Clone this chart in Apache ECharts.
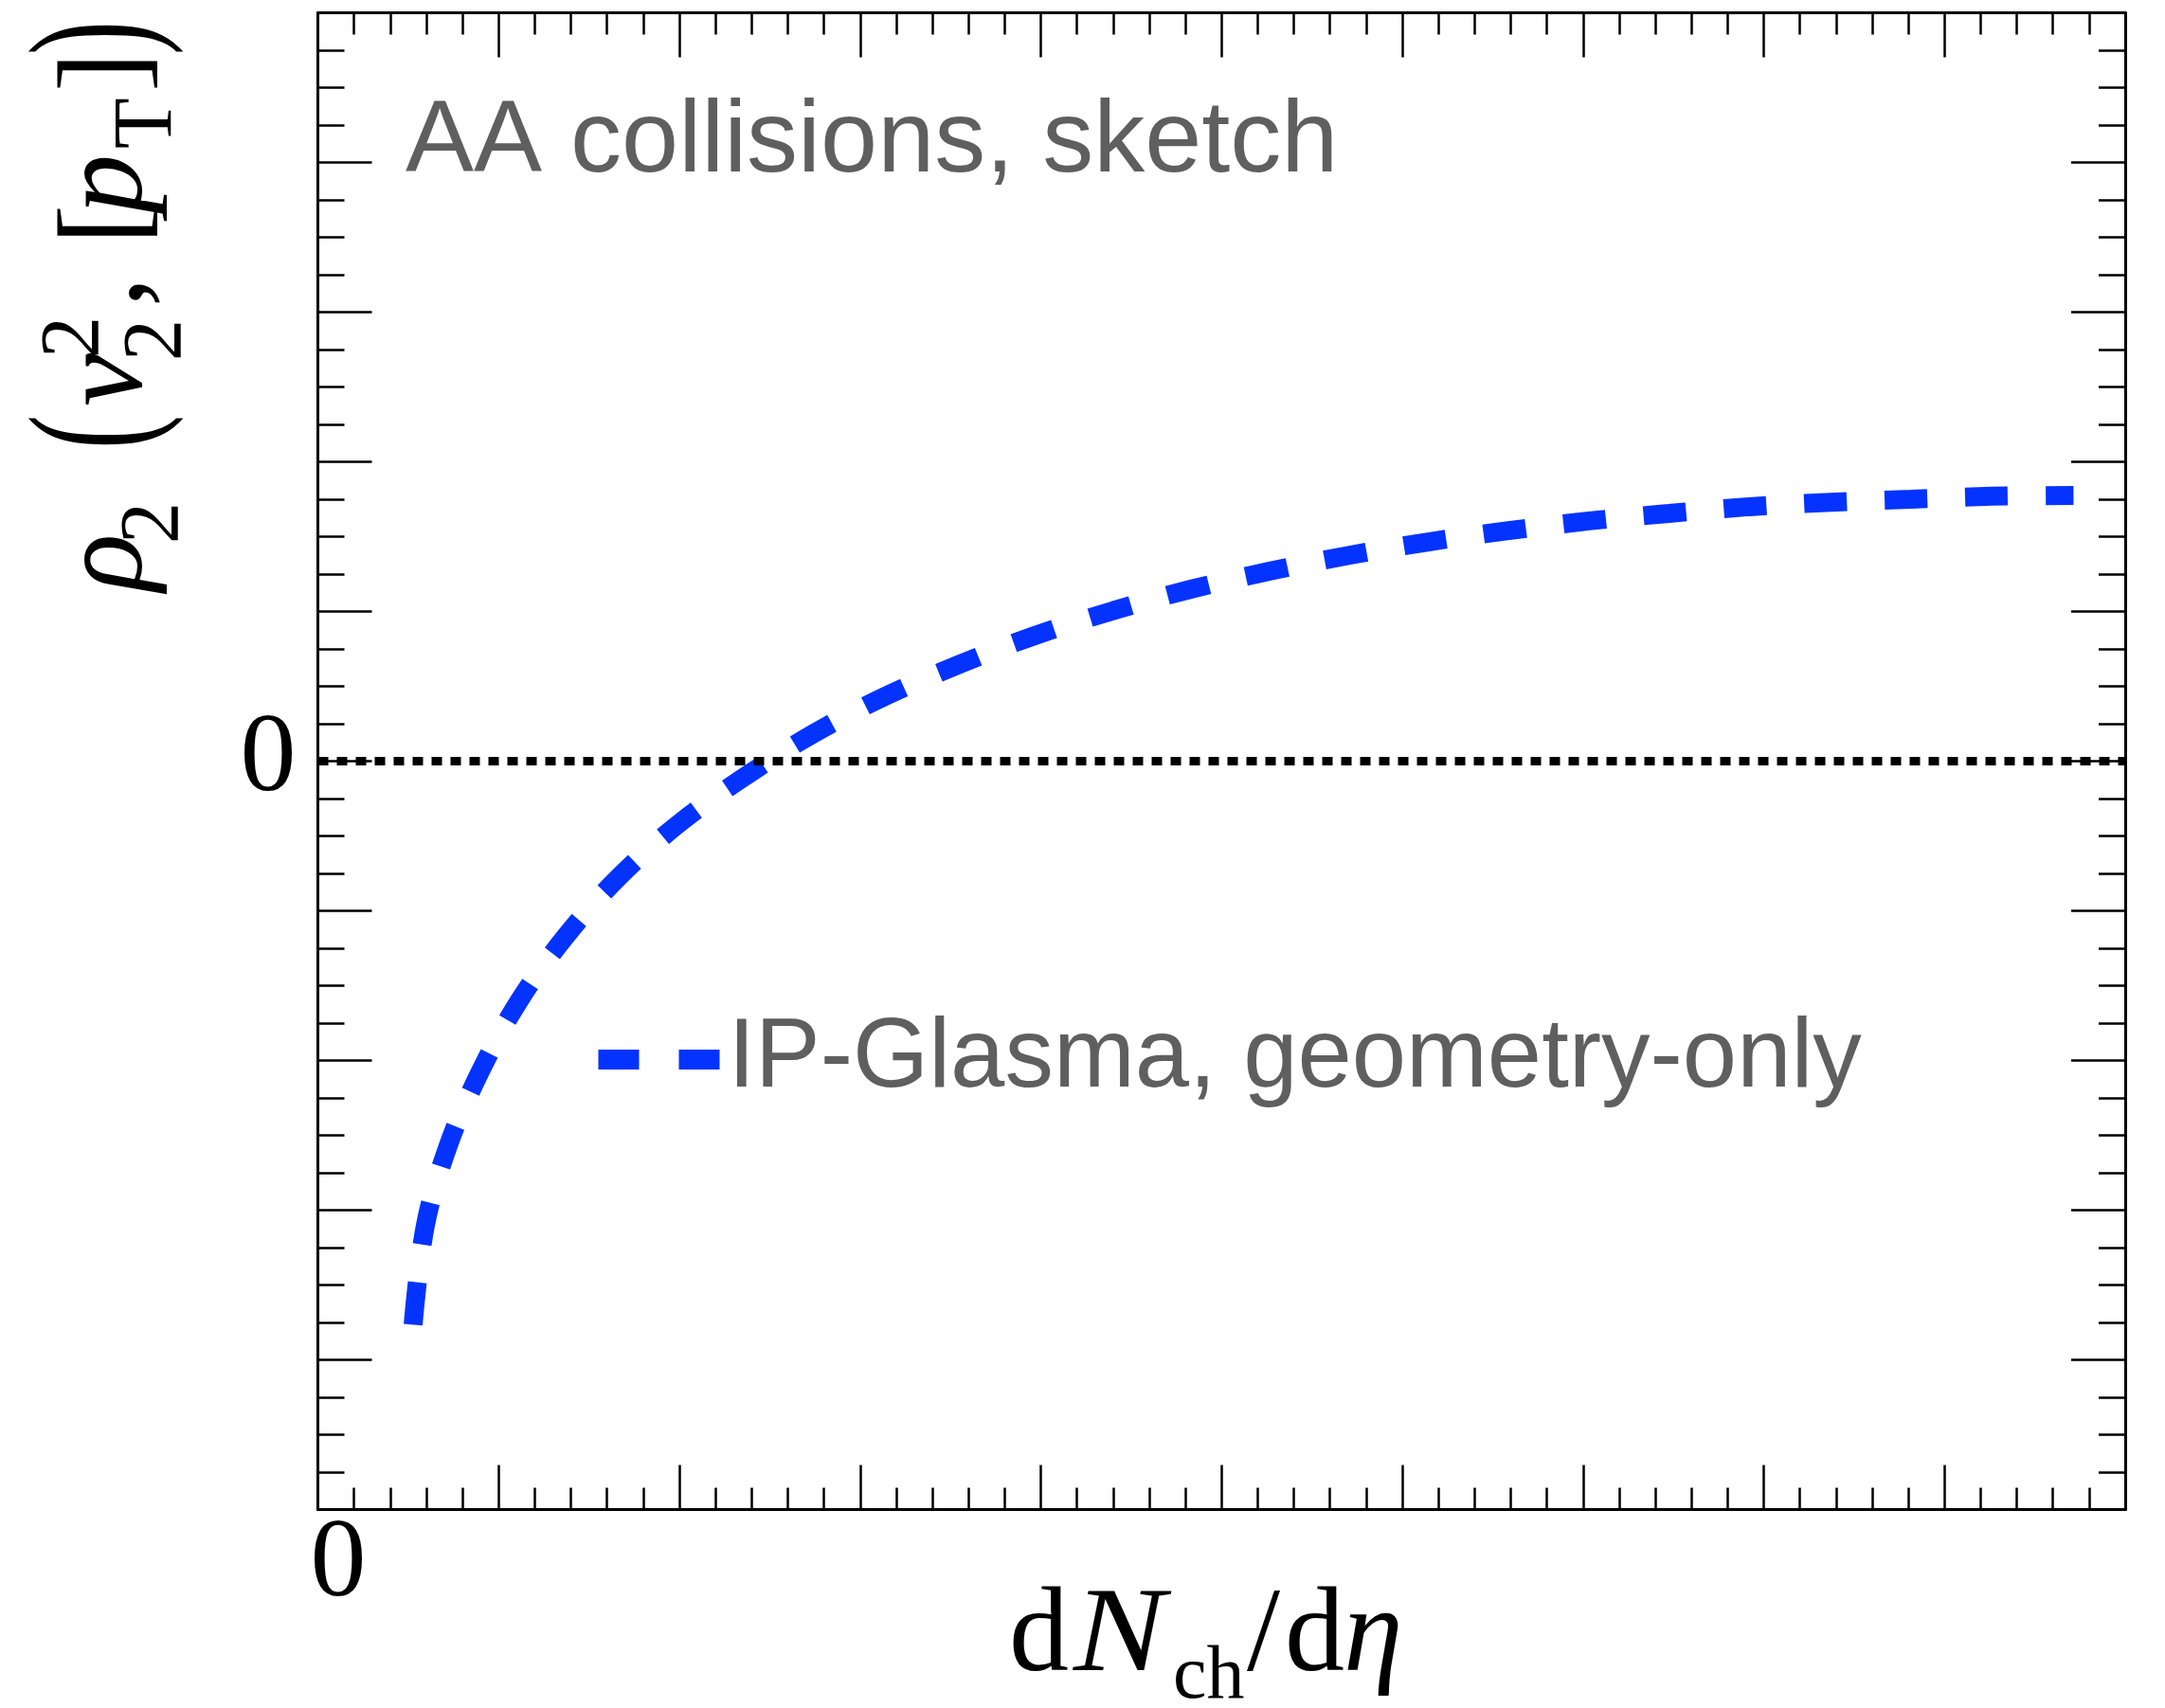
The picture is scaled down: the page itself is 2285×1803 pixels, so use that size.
<!DOCTYPE html>
<html>
<head>
<meta charset="utf-8">
<title>rho2 sketch</title>
<script src="https://cdn.jsdelivr.net/npm/echarts@6/dist/echarts.min.js"></script>
<style>
  html, body { margin: 0; padding: 0; background: #fff; }
  #chart { width: 2285px; height: 1803px; }
</style>
</head>
<body>
<div id="chart"></div>
<script>
// curve: x in major-tick units, y as a fraction of the half height
const dNdeta = [0.527, 0.595, 0.721, 0.894, 1.109, 1.371, 1.669, 2.005, 2.366, 2.744,
  3.142, 3.556, 3.970, 4.400, 4.835, 5.270, 5.705, 6.145, 6.588, 7.034,
  7.474, 7.919, 8.370, 8.815, 9.261, 9.714]
const rho2 = [-0.753, -0.620, -0.514, -0.417, -0.322, -0.234, -0.154, -0.082, -0.020, 0.037,
  0.087, 0.130, 0.168, 0.201, 0.230, 0.254, 0.275, 0.293, 0.308, 0.321,
  0.331, 0.340, 0.346, 0.350, 0.354, 0.355]
const xRange = [0, 10]
const yRange = [-1, 1]
const xLabelled = [0]
const yLabelled = [0]
const curveName = 'IP-Glasma, geometry-only'
const note = 'AA collisions, sketch'

const SERIF = '"Liberation Serif", "Times New Roman", serif'
const SANS = '"Liberation Sans", Arial, sans-serif'
const BLUE = '#0433ff'
const GREY = '#5f5f5f'

// canvas draws text on its 'middle' baseline; shift to sit on the alphabetic one
const mid = (size) => 0.3375 * size

function piece(text, x, base, size, italic, extra) {
  return Object.assign({
    type: 'text',
    x: x,
    y: base - mid(size),
    style: {
      text: text,
      fontFamily: SERIF,
      fontSize: size,
      fontStyle: italic ? 'italic' : 'normal',
      fill: '#000',
      textAlign: 'left',
      textVerticalAlign: 'middle',
    },
  }, extra || {})
}

// y title, laid out along the text (u) and across it (v, + is below the baseline)
const F = 126, S = 88, P = 180
const parenBase = -34.5 + 0.25 * P
const yTitle = {
  type: 'group',
  x: 158,
  y: 624,
  rotation: Math.PI / 2,
  children: [
    piece('ρ', 0, 0, F, true),
    piece('2', 50, 36, S, false),
    piece('(', 150, parenBase, P, false, { scaleX: 0.6 }),
    piece('v', 195, 0, F, true),
    piece('2', 246, -48, S, false),
    piece('2', 243, 39, S, false),
    piece(',', 300, 0, F, false),
    piece('[', 366, 0, F, false),
    piece('p', 398, 0, F, true),
    piece('T', 467, 29, S, false),
    piece(']', 527, 0, F, false),
    piece(')', 566, parenBase, P, false, { scaleX: 0.6 }),
  ],
}

const xBase = 1772
const xTitle = {
  type: 'group',
  children: [
    piece('d', 1065, xBase, F, false),
    piece('N', 1133, xBase, F, true, { scaleX: 1.15 }),
    piece('ch', 1238, xBase + 26, 80, false),
    piece('/', 1316, xBase, F, false),
    piece('d', 1356, xBase, F, false),
    piece('η', 1418, xBase, F, true),
  ],
}

const tickLine = { color: '#000', width: 2.5 }
const frameLine = { show: true, onZero: false, lineStyle: { color: '#000', width: 3 } }

function xAxisAt(position, showLabels) {
  return {
    type: 'value',
    position: position,
    min: xRange[0],
    max: xRange[1],
    interval: 1,
    axisLine: frameLine,
    axisTick: { inside: true, length: 47, lineStyle: tickLine },
    minorTick: { show: true, splitNumber: 5, length: 23, lineStyle: tickLine },
    splitLine: { show: false },
    axisLabel: {
      show: showLabels,
      margin: 1,
      padding: [0, 0, 0, 43],
      fontFamily: SERIF,
      fontSize: 118,
      color: '#000',
      formatter: (v) => (xLabelled.some((t) => Math.abs(t - v) < 1e-9) ? String(v) : ''),
    },
  }
}

function yAxisAt(position, showLabels) {
  return {
    type: 'value',
    position: position,
    min: yRange[0],
    max: yRange[1],
    interval: 0.2,
    axisLine: frameLine,
    axisTick: { inside: true, length: 57, lineStyle: tickLine },
    minorTick: { show: true, splitNumber: 4, length: 28, lineStyle: tickLine },
    splitLine: { show: false },
    axisLabel: {
      show: showLabels,
      margin: 23,
      fontFamily: SERIF,
      fontSize: 118,
      color: '#000',
      formatter: (v) => (yLabelled.some((t) => Math.abs(t - v) < 1e-9) ? '0' : ''),
    },
  }
}

const chart = echarts.init(document.getElementById('chart'), null, { renderer: 'canvas' })

chart.setOption({
  animation: false,
  backgroundColor: '#fff',
  grid: { left: 335.5, right: 42, top: 13.5, bottom: 209.5, containLabel: false },
  title: {
    text: note,
    left: 428,
    top: 97,
    padding: 0,
    textStyle: { fontFamily: SANS, fontSize: 108, fontWeight: 'normal', color: GREY },
  },
  legend: {
    left: 621,
    top: 1067,
    padding: 0,
    selectedMode: false,
    itemWidth: 128,
    itemHeight: 103,
    itemStyle: { color: 'rgba(0,0,0,0)', borderWidth: 0, opacity: 0 },
    lineStyle: { width: 21, type: [43, 42], cap: 'butt' },
    textStyle: { fontFamily: SANS, fontSize: 103, color: GREY, padding: [0, 0, 0, 4] },
    data: [curveName],
  },
  xAxis: [xAxisAt('bottom', true), xAxisAt('top', false)],
  yAxis: [yAxisAt('left', true), yAxisAt('right', false)],
  graphic: [yTitle, xTitle],
  series: [
    {
      name: curveName,
      type: 'line',
      data: dNdeta.map((x, i) => [x, rho2[i]]),
      smooth: 0.35,
      symbol: 'none',
      lineStyle: { color: BLUE, width: 20, type: [45, 40], cap: 'butt' },
      itemStyle: { color: BLUE },
      markLine: {
        silent: true,
        symbol: ['none', 'none'],
        label: { show: false },
        lineStyle: { color: '#000', width: 9, type: [11, 9], cap: 'butt' },
        data: [{ yAxis: 0 }],
      },
    },
  ],
})
</script>
</body>
</html>
